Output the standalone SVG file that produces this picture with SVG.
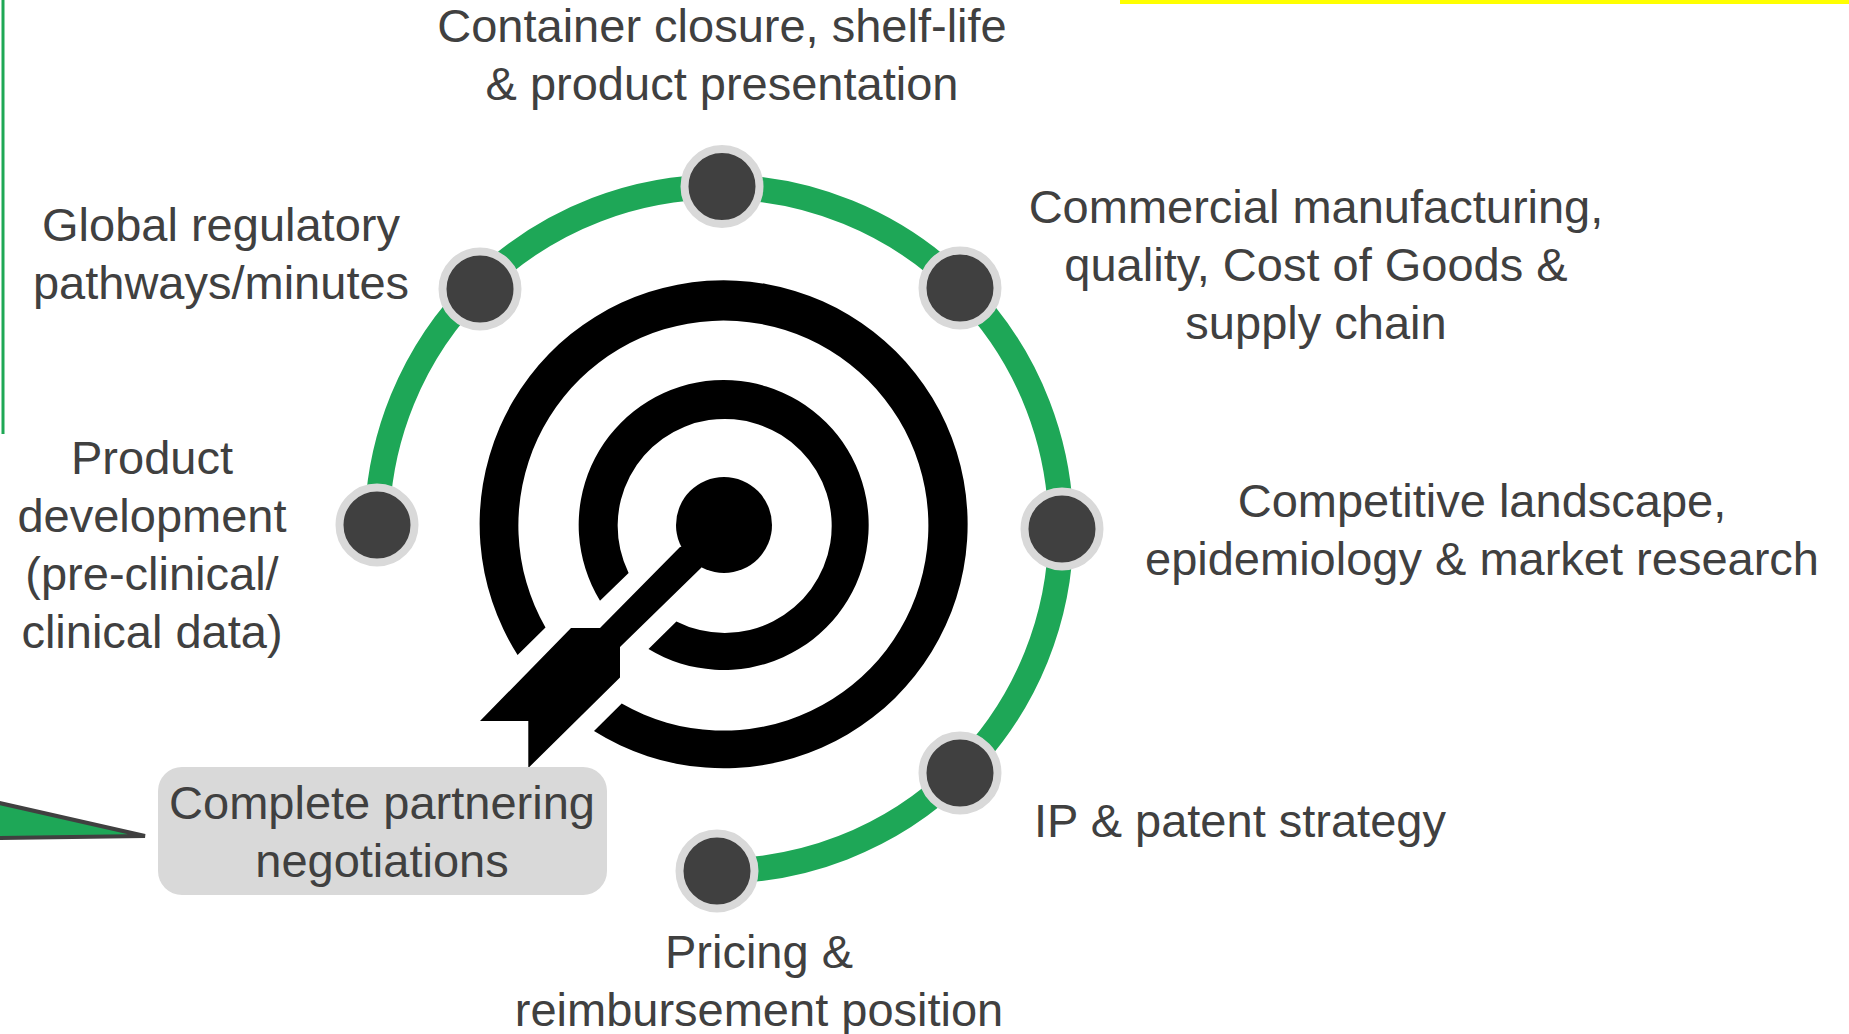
<svg xmlns="http://www.w3.org/2000/svg" width="1849" height="1034" viewBox="0 0 1849 1034">
<style>
text{font-family:"Liberation Sans",Arial,sans-serif;font-size:47px;fill:#404040;text-anchor:middle}
.n{fill:#404040;stroke:#d9d9d9;stroke-width:8}
</style>
<rect width="1849" height="1034" fill="#fff"/>
<g id="frame-lines">
<path d="M3 0V434" fill="none" stroke="#1fa855" stroke-width="3"/>
<rect x="1120" y="0" width="729" height="4" fill="#ffff00"/>
<path d="M-5 802L145 836L-5 838Z" fill="#1ea757" stroke="#404040" stroke-width="4"/>
</g>
<g id="connectors">
<path d="M717 871A342 342 0 1 0 377 525" fill="none" stroke="#1ea757" stroke-width="25"/>
</g>
<g id="target" fill="#000">
<path d="M594 731A244 244 0 1 0 517.6 655L545.5 627.5A205 205 0 1 1 621.7 703.6Z"/>
<path d="M648.5 649A145 145 0 1 0 600 600.7L628.6 573A107 107 0 1 1 676.4 621.4Z"/>
<circle cx="724" cy="525" r="48"/>
<path d="M680 547L600 628H571L480 721H528.3V768L620 677.5V647L700.5 568.6L724 540Z"/>
</g>
<g id="node-top"><circle class="n" cx="722" cy="186.500" r="37.500"/><text x="722" y="42">Container closure, shelf-life</text><text x="722" y="100">&amp; product presentation</text></g>
<g id="node-upper-right"><circle class="n" cx="960" cy="288" r="37.500"/><text x="1316" y="223">Commercial manufacturing,</text><text x="1316" y="281">quality, Cost of Goods &amp;</text><text x="1316" y="339">supply chain</text></g>
<g id="node-right"><circle class="n" cx="1062" cy="529" r="37.500"/><text x="1482" y="517">Competitive landscape,</text><text x="1482" y="575">epidemiology &amp; market research</text></g>
<g id="node-lower-right"><circle class="n" cx="960" cy="773" r="37.500"/><text x="1240" y="837">IP &amp; patent strategy</text></g>
<g id="node-bottom"><circle class="n" cx="717" cy="871" r="37.500"/><text x="759" y="968">Pricing &amp;</text><text x="759" y="1026">reimbursement position</text></g>
<g id="node-partnering"><rect x="158" y="767" width="449" height="128" rx="24" fill="#d9d9d9"/><text x="382" y="819">Complete partnering</text><text x="382" y="877">negotiations</text></g>
<g id="node-left"><circle class="n" cx="377" cy="525" r="37.500"/><text x="152" y="474">Product</text><text x="152" y="532">development</text><text x="152" y="590">(pre-clinical/</text><text x="152" y="648">clinical data)</text></g>
<g id="node-upper-left"><circle class="n" cx="480" cy="289" r="37.500"/><text x="221" y="241">Global regulatory</text><text x="221" y="299">pathways/minutes</text></g>
</svg>
